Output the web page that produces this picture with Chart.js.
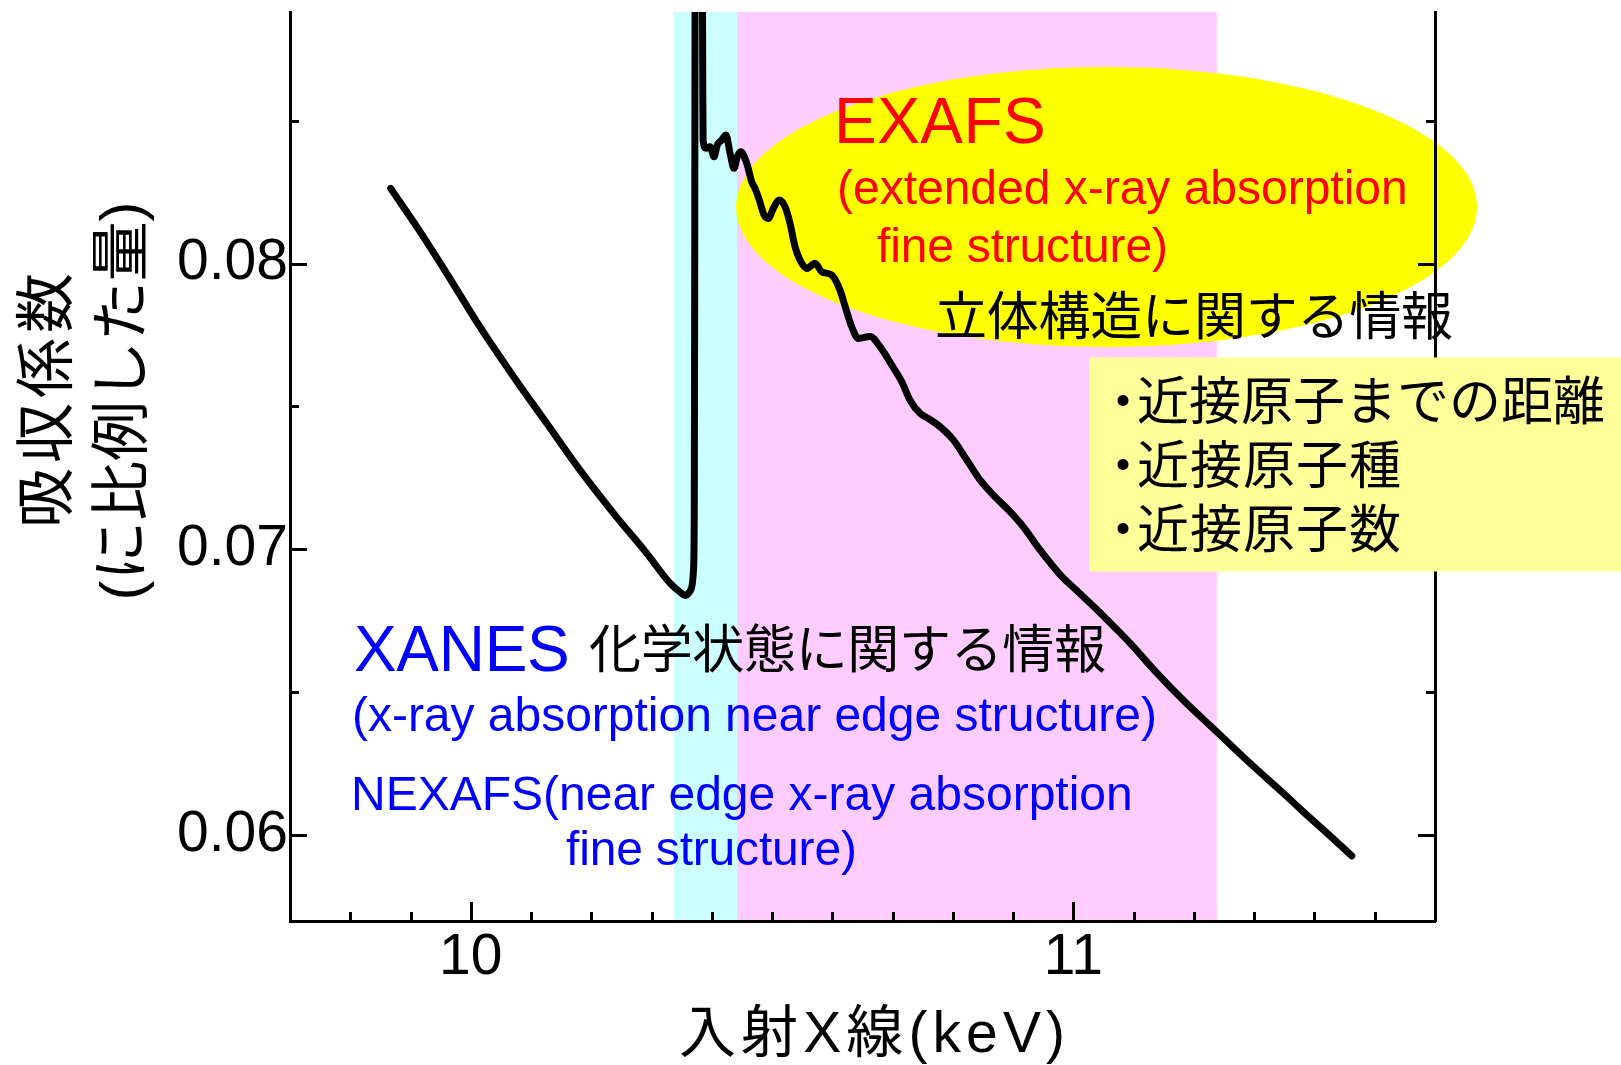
<!DOCTYPE html>
<html>
<head>
<meta charset="utf-8">
<script src="https://cdn.jsdelivr.net/npm/chart.js@4.4.1/dist/chart.umd.min.js"></script>
<style>
  html, body { margin: 0; padding: 0; background: #fff; }
  #wrap { width: 1621px; height: 1065px; }
</style>
</head>
<body>
<div id="wrap"><canvas id="xas" width="1621" height="1065"></canvas></div>
<script>
// incident X-ray energy (keV)
const energy = [
  9.867, 9.916, 9.960, 10.015, 10.071, 10.126, 10.181, 10.237, 10.292, 10.331,
  10.347, 10.357, 10.365, 10.3696, 10.3709, 10.3716, 10.3722, 10.3760, 10.3843, 10.3850,
  10.3855, 10.3903, 10.3970, 10.4036, 10.4091, 10.4164, 10.4235, 10.4302, 10.4368, 10.4423,
  10.4479, 10.4579, 10.4662, 10.4717, 10.4788, 10.4866, 10.4937, 10.5020, 10.5115, 10.5214,
  10.5297, 10.5380, 10.5463, 10.5575, 10.5712, 10.5824, 10.5990, 10.6127, 10.6210, 10.6321,
  10.6431, 10.6625, 10.6791, 10.6985, 10.7151, 10.7289, 10.7455, 10.7592, 10.7787, 10.8007,
  10.8230, 10.8450, 10.8671, 10.8948, 10.9169, 10.9446, 10.9778, 11.0055, 11.0387, 11.0719,
  11.0940, 11.1383, 11.1824, 11.2378, 11.2931, 11.3484, 11.3816, 11.4259, 11.4619
];
// absorption coefficient (arb.)
const absorption = [
  0.08263, 0.08111, 0.07966, 0.07779, 0.07604, 0.07441, 0.07278, 0.07126, 0.06986, 0.06881,
  0.06851, 0.06839, 0.06858, 0.06928, 0.07173, 0.0800, 0.0900, 0.0970, 0.0900, 0.0860,
  0.08430, 0.08403, 0.08409, 0.08374, 0.08415, 0.08432, 0.08450, 0.08386, 0.08333, 0.08374,
  0.08391, 0.08351, 0.08286, 0.08263, 0.08222, 0.08170, 0.08158, 0.08193, 0.08222, 0.08199,
  0.08141, 0.08059, 0.08012, 0.07983, 0.08001, 0.07971, 0.07960, 0.07907, 0.07851, 0.07779,
  0.07738, 0.07745, 0.07709, 0.07645, 0.07587, 0.07522, 0.07476, 0.07458, 0.07429, 0.07383,
  0.07313, 0.07243, 0.07190, 0.07132, 0.07079, 0.06998, 0.06912, 0.06856, 0.06790, 0.06720,
  0.06672, 0.06568, 0.06472, 0.06362, 0.06252, 0.06147, 0.06082, 0.05998, 0.05928
];

const xRange = [9.7, 11.6];
const yRange = [0.057, 0.0888];
const xMajorTicks = [10, 11];
const yMajorTicks = [0.06, 0.07, 0.08];

// shaded regions (keV)
const xanesRange = [10.337, 10.442];
const exafsRange = [10.442, 11.238];

// callout shapes, in axis units
const exafsOval = { x: 11.055, y: 0.08198, rx: 0.6148, ry: 0.004898 };
const infoBox = { x: 11.0264, yTop: 0.076713, yBottom: 0.069227 };

const SANS = '"Liberation Sans", "Noto Sans CJK JP", sans-serif';
const CJK = '"Noto Sans CJK JP", sans-serif';

const isMajor = (v, list) => list.some(m => Math.abs(m - v) < 1e-9);

// draw text so its ink starts at `left` and spans `width`
function fitText(ctx, text, left, baseline, size, family, color, width) {
  ctx.save();
  ctx.font = size + 'px ' + family;
  ctx.fillStyle = color;
  ctx.textAlign = 'left';
  ctx.textBaseline = 'alphabetic';
  ctx.letterSpacing = '0px';
  const m = ctx.measureText(text);
  const ink = m.actualBoundingBoxLeft + m.actualBoundingBoxRight;
  const n = [...text].length;
  if (n > 1 && width) ctx.letterSpacing = ((width - ink) / (n - 1)).toFixed(2) + 'px';
  ctx.fillText(text, left + m.actualBoundingBoxLeft, baseline);
  ctx.restore();
}

// same, rotated to read bottom to top, centred on cy
function fitTextUp(ctx, text, baseX, cy, size, family, color, width) {
  ctx.save();
  ctx.translate(baseX, cy);
  ctx.rotate(-Math.PI / 2);
  fitText(ctx, text, -width / 2, 0, size, family, color, width);
  ctx.restore();
}

const backdrop = {
  id: 'backdrop',
  beforeDraw(chart) {
    const { ctx, chartArea: a, scales: { x, y } } = chart;
    ctx.save();
    const band = (r, color) => {
      const x0 = x.getPixelForValue(r[0]), x1 = x.getPixelForValue(r[1]);
      ctx.fillStyle = color;
      ctx.fillRect(x0, a.top, x1 - x0, a.bottom - a.top);
    };
    band(xanesRange, '#ccffff');
    band(exafsRange, '#ffccff');
    const cx = x.getPixelForValue(exafsOval.x), cy = y.getPixelForValue(exafsOval.y);
    const rx = x.getPixelForValue(exafsOval.x + exafsOval.rx) - cx;
    const ry = cy - y.getPixelForValue(exafsOval.y + exafsOval.ry);
    ctx.fillStyle = '#ffff00';
    ctx.beginPath();
    ctx.ellipse(cx, cy, rx, ry, 0, 0, Math.PI * 2);
    ctx.fill();
    ctx.restore();
  }
};

// tick marks pointing into the plot
const inwardTicks = {
  id: 'inwardTicks',
  beforeDatasetsDraw(chart) {
    const { ctx, chartArea: a } = chart;
    ctx.save();
    ctx.strokeStyle = '#000';
    ctx.lineWidth = 3;
    ctx.beginPath();
    for (const id of ['x', 'y', 'y2']) {
      const s = chart.scales[id];
      const majors = id === 'x' ? xMajorTicks : yMajorTicks;
      s.ticks.forEach(t => {
        if (t.value <= s.min + 1e-9 || t.value >= s.max - 1e-9) return;
        const p = Math.round(s.getPixelForValue(t.value)) + 0.5;
        if (id === 'x') {
          const len = isMajor(t.value, majors) ? 19 : 9;
          ctx.moveTo(p, a.bottom); ctx.lineTo(p, a.bottom - len);
        } else {
          const len = isMajor(t.value, majors) ? 17 : 9;
          if (id === 'y') { ctx.moveTo(a.left, p); ctx.lineTo(a.left + len, p); }
          else { ctx.moveTo(a.right, p); ctx.lineTo(a.right - len, p); }
        }
      });
    }
    ctx.stroke();
    ctx.restore();
  }
};

const notes = {
  id: 'notes',
  afterDraw(chart) {
    const { ctx, scales: { x, y } } = chart;
    // info box
    const bx = x.getPixelForValue(infoBox.x);
    const by0 = y.getPixelForValue(infoBox.yTop), by1 = y.getPixelForValue(infoBox.yBottom);
    ctx.save();
    ctx.fillStyle = '#ffff99';
    ctx.fillRect(bx, by0, chart.width - bx, by1 - by0);
    ctx.restore();

    const red = '#ff0000', blue = '#0000ff', black = '#000000';
    fitText(ctx, 'EXAFS', 839, 143, 64, SANS, red, 204);
    fitText(ctx, '(extended x-ray absorption', 839, 204, 48, SANS, red, 566);
    fitText(ctx, 'fine structure)', 877, 262, 48, SANS, red, 289);
    fitText(ctx, '立体構造に関する情報', 937, 335, 52, CJK, black, 515);

    [['近接原子までの距離', 420, 466], ['近接原子種', 484, 262], ['近接原子数', 548, 262]].forEach(([t, b, w]) => {
      fitText(ctx, '・', 1117, b, 52, CJK, black, 0);
      fitText(ctx, t, 1138, b, 52, CJK, black, w);
    });

    fitText(ctx, 'XANES', 355, 671, 64, SANS, blue, 212);
    fitText(ctx, '化学状態に関する情報', 590, 668, 52, CJK, black, 515);
    fitText(ctx, '(x-ray absorption near edge structure)', 354, 731, 48, SANS, blue, 801);
    fitText(ctx, 'NEXAFS(near edge x-ray absorption', 354, 810, 48, SANS, blue, 776);
    fitText(ctx, 'fine structure)', 566, 865, 48, SANS, blue, 289);

    // axis titles
    fitText(ctx, '入射X線(keV)', 681, 1052, 57, SANS, black, 381);
    fitTextUp(ctx, '吸収係数', 67, 399, 60, CJK, black, 250);
    fitTextUp(ctx, '(に比例した量)', 142, 401, 60, SANS, black, 393);
  }
};

const tickFont = { family: 'Liberation Sans', size: 57, lineHeight: 1.2 };

new Chart(document.getElementById('xas'), {
  type: 'line',
  data: {
    datasets: [{
      data: energy.map((e, i) => ({ x: e, y: absorption[i] })),
      borderColor: '#000',
      borderWidth: 7,
      borderCapStyle: 'round',
      borderJoinStyle: 'round',
      cubicInterpolationMode: 'monotone',
      pointRadius: 0,
      fill: false,
    }]
  },
  options: {
    responsive: false,
    animation: false,
    devicePixelRatio: 1,
    layout: { padding: { top: 12, left: 0, right: 0, bottom: 0 } },
    plugins: { legend: { display: false }, tooltip: { enabled: false } },
    scales: {
      x: {
        type: 'linear', min: xRange[0], max: xRange[1],
        grid: { display: false, drawTicks: false },
        border: { display: true, color: '#000', width: 3 },
        ticks: {
          stepSize: 0.1, includeBounds: false, autoSkip: false, maxRotation: 0,
          padding: 3, color: '#000', font: tickFont,
          callback: v => isMajor(v, xMajorTicks) ? String(Math.round(v)) : '',
        },
        afterFit: s => { s.height = 144; s.paddingLeft = 0; s.paddingRight = 0; },
      },
      y: {
        type: 'linear', position: 'left', min: yRange[0], max: yRange[1],
        grid: { display: false, drawTicks: false },
        border: { display: true, color: '#000', width: 3 },
        ticks: {
          stepSize: 0.005, includeBounds: false, autoSkip: false,
          padding: 2, color: '#000', font: tickFont,
          callback: v => isMajor(v, yMajorTicks) ? v.toFixed(2) : '',
        },
        afterFit: s => { s.width = 290; s.paddingTop = 0; s.paddingBottom = 0; },
      },
      y2: {
        type: 'linear', position: 'right', min: yRange[0], max: yRange[1],
        grid: { display: false, drawTicks: false },
        border: { display: true, color: '#000', width: 3 },
        ticks: { stepSize: 0.005, includeBounds: false, display: false },
        afterFit: s => { s.width = 186; s.paddingTop = 0; s.paddingBottom = 0; },
      },
    },
  },
  plugins: [backdrop, inwardTicks, notes],
});
</script>
</body>
</html>
